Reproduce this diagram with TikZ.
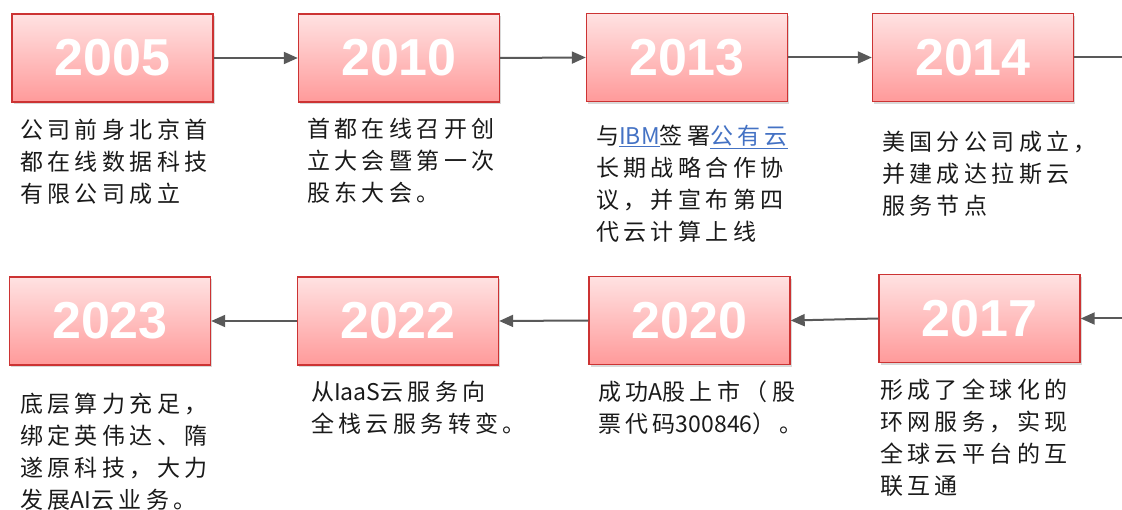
\documentclass[tikz,border=0pt]{standalone}
\usepackage{fontspec}
\usetikzlibrary{arrows.meta,shadows}
\setmainfont{Liberation Sans}
\newfontfamily\cjk[LetterSpace=19]{Noto Sans CJK SC}
\newfontfamily\latn{Noto Sans CJK SC}
\newcommand{\lt}[1]{{\latn #1}}
\definecolor{boxtop}{HTML}{FFE2E2}
\definecolor{boxbot}{HTML}{FF9A9A}
\definecolor{boxline}{HTML}{CC3333}
\definecolor{arrowgray}{HTML}{595959}
\definecolor{linkblue}{HTML}{4472C4}
\definecolor{txt}{HTML}{1A1A1A}
\tikzset{
  yearbox/.style={rectangle, minimum width=201pt, minimum height=88pt, inner sep=0pt,
    draw=boxline, line width=1.4pt, top color=boxtop, bottom color=boxbot,
    drop shadow={opacity=0.3, shadow xshift=1.5pt, shadow yshift=-2.5pt},
    text=white, font=\fontsize{52}{52}\selectfont\bfseries},
  conn/.style={draw=arrowgray, line width=2pt},
  arr/.style={conn, -{Triangle[length=14pt,width=12pt]}},
  desc/.style={anchor=north west, inner sep=0pt, align=left, text=txt,
    font=\cjk\fontsize{23}{32}\selectfont}
}
\begin{document}
\begin{tikzpicture}[x=1pt,y=-1pt]
\useasboundingbox (0,0) rectangle (1122,510);
\node[yearbox] (y2005) at (112.5,58) {2005};
\node[yearbox] (y2010) at (399,58) {2010};
\node[yearbox] (y2013) at (687,57.5) {2013};
\node[yearbox] (y2014) at (973,57.5) {2014};
\node[yearbox] (y2017) at (979.5,318.5) {2017};
\node[yearbox] (y2020) at (689.5,320.5) {2020};
\node[yearbox] (y2022) at (398,321) {2022};
\node[yearbox] (y2023) at (110,321) {2023};
\coordinate (out1) at (1122,57.5);
\coordinate (in2) at (1122,318.5);

\draw[arr] (y2005.east) -- (y2010.west);
\draw[arr] (y2010.east) -- (y2013.west);
\draw[arr] (y2013.east) -- (y2014.west);
\draw[conn] (y2014.east) -- (out1);
\draw[arr] (in2) -- (y2017.east);
\draw[arr] (y2017.west) -- (y2020.east);
\draw[arr] (y2020.west) -- (y2022.east);
\draw[arr] (y2022.west) -- (y2023.east);

\node[desc] (t2005) at (20,119) {公司前身北京首\\都在线数据科技\\有限公司成立};
\node[desc] (t2010) at (307,118) {首都在线召开创\\立大会暨第一次\\股东大会。};
\node[desc] (t2013) at (596,125) {与\textcolor{linkblue}{\underline{\lt{IBM}}}签署\textcolor{linkblue}{\underline{公有云}}\\长期战略合作协\\议，并宣布第四\\代云计算上线};
\node[desc] (t2014) at (882,131) {美国分公司成立，\\并建成达拉斯云\\服务节点};
\node[desc] (t2023) at (20,393) {底层算力充足，\\绑定英伟达、隋\\遂原科技，大力\\发展\lt{AI}云业务。};
\node[desc] (t2022) at (311,381) {从\lt{IaaS}云服务向\\全栈云服务转变。};
\node[desc] (t2020) at (598,381) {成功\lt{A}股上市（股\\票代码\lt{300846}）。};
\node[desc] (t2017) at (880,379) {形成了全球化的\\环网服务，实现\\全球云平台的互\\联互通};
\end{tikzpicture}
\end{document}
